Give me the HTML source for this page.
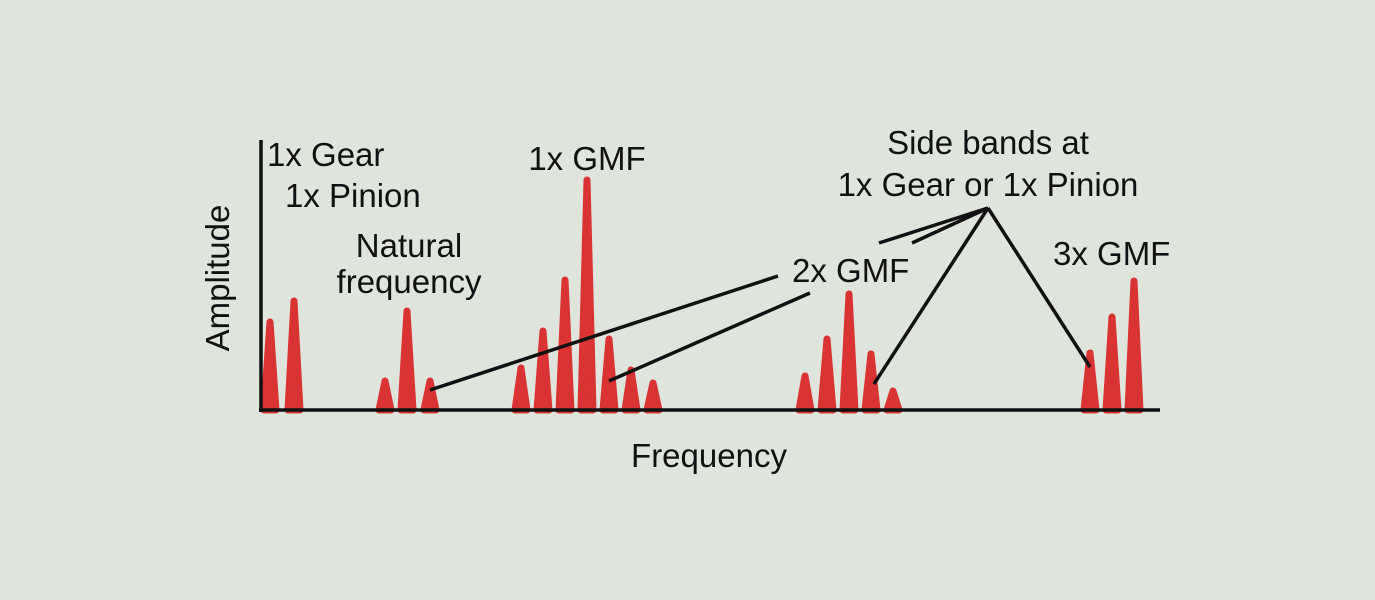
<!DOCTYPE html>
<html><head><style>
html,body{margin:0;padding:0;background:#dfe5dc;}
svg{display:block;}
text{font-family:"Liberation Sans",sans-serif;font-size:33px;fill:#111;}
</style></head><body>
<svg width="1375" height="600" viewBox="0 0 1375 600">
<rect width="1375" height="600" fill="#dfe5dc"/>
<g fill="#d93333" stroke="#d93333" stroke-width="7" stroke-linejoin="round">
<polygon points="264,410 270,322 276,410"/>
<polygon points="288,410 294,301 300,410"/>
<polygon points="379,410 385,381 391,410"/>
<polygon points="401,410 407,311 413,410"/>
<polygon points="424,410 430,381 436,410"/>
<polygon points="515,410 521,368 527,410"/>
<polygon points="537,410 543,331 549,410"/>
<polygon points="559,410 565,280 571,410"/>
<polygon points="581,410 587,180 593,410"/>
<polygon points="603,410 609,339 615,410"/>
<polygon points="625,410 631,370 637,410"/>
<polygon points="647,410 653,383 659,410"/>
<polygon points="799,410 805,376 811,410"/>
<polygon points="821,410 827,339 833,410"/>
<polygon points="843,410 849,294 855,410"/>
<polygon points="865,410 871,354 877,410"/>
<polygon points="887,410 893,391 899,410"/>
<polygon points="1084,410 1090,353 1096,410"/>
<polygon points="1106,410 1112,317 1118,410"/>
<polygon points="1128,410 1134,281 1140,410"/>
</g>
<g stroke="#111" stroke-width="3.5" fill="none">
<line x1="261" y1="140" x2="261" y2="412"/>
<line x1="259" y1="410" x2="1160" y2="410"/>
<line x1="430" y1="390" x2="778" y2="276"/>
<line x1="609" y1="381" x2="810" y2="293"/>
<line x1="988" y1="208" x2="879" y2="243"/>
<line x1="988" y1="208" x2="912" y2="243"/>
<line x1="988" y1="208" x2="874" y2="384"/>
<line x1="988" y1="208" x2="1090" y2="367"/>
</g>
<text x="267" y="166">1x Gear</text>
<text x="285" y="207">1x Pinion</text>
<text x="409" y="257" text-anchor="middle">Natural</text>
<text x="409" y="293" text-anchor="middle">frequency</text>
<text x="587" y="170" text-anchor="middle">1x GMF</text>
<text x="988" y="154" text-anchor="middle">Side bands at</text>
<text x="988" y="196" text-anchor="middle">1x Gear or 1x Pinion</text>
<text x="792" y="282">2x GMF</text>
<text x="1053" y="265">3x GMF</text>
<text x="709" y="467" text-anchor="middle">Frequency</text>
<text x="0" y="0" text-anchor="middle" transform="translate(229,278) rotate(-90)">Amplitude</text>
</svg>
</body></html>
